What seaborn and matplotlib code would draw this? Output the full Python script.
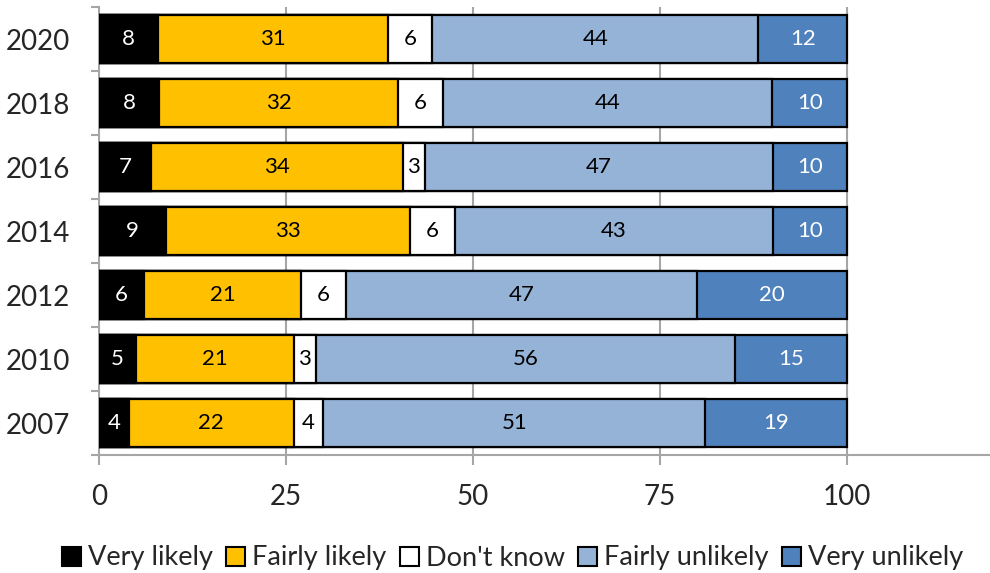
import matplotlib
matplotlib.use("Agg")
import matplotlib.pyplot as plt
from matplotlib.patches import Patch
from matplotlib.ticker import FixedLocator
import numpy as np
import pandas as pd
import seaborn as sns

years = ["2020", "2018", "2016", "2014", "2012", "2010", "2007"]
very_likely = [8, 8, 7, 9, 6, 5, 4]
fairly_likely = [31, 32, 34, 33, 21, 21, 22]
dont_know = [6, 6, 3, 6, 6, 3, 4]
fairly_unlikely = [44, 44, 47, 43, 47, 56, 51]
very_unlikely = [12, 10, 10, 10, 20, 15, 19]

series_names = ["Very likely", "Fairly likely", "Don't know", "Fairly unlikely", "Very unlikely"]
series_vals = [very_likely, fairly_likely, dont_know, fairly_unlikely, very_unlikely]
colors = ["#000000", "#FFC000", "#FFFFFF", "#95B3D7", "#4F81BD"]
text_colors = ["white", "black", "black", "black", "white"]
xticks = [0, 25, 50, 75, 100]

sns.set_theme(style="white")
plt.rcParams["font.family"] = ["Lato", "DejaVu Sans"]

vals = np.array(series_vals, dtype=float)
pct = vals / vals.sum(axis=0) * 100
cum = np.cumsum(pct, axis=0)

fig = plt.figure(figsize=(9.9, 5.73), dpi=100)
ax = fig.add_axes([99 / 990, 118 / 573, 891 / 990, 448 / 573])

# draw cumulative bars from largest to smallest so each segment shows
for i in range(len(series_names) - 1, -1, -1):
    df = pd.DataFrame({"year": years, "value": cum[i]})
    sns.barplot(data=df, x="value", y="year", orient="h", color=colors[i],
                width=0.75, edgecolor="black", linewidth=1.6, saturation=1,
                ax=ax, zorder=3)

# labels
for i in range(len(series_names)):
    starts = cum[i] - pct[i]
    for j in range(len(years)):
        ax.text(starts[j] + pct[i][j] / 2, j, str(series_vals[i][j]),
                ha="center", va="center", fontsize=16, color=text_colors[i], zorder=5)

ax.set_xlim(0, 119.1)
ax.set_ylim(6.5, -0.5)
ax.set_xlabel("")
ax.set_ylabel("")

ax.set_xticks(xticks)
ax.set_xticklabels([str(t) for t in xticks], fontsize=20)
for t in xticks[1:]:
    ax.axvline(t, color="#A6A6A6", lw=1.5, zorder=1)

ax.set_yticks(range(len(years)))
ax.set_yticklabels(years, fontsize=20)
ax.yaxis.set_minor_locator(FixedLocator(np.arange(-0.5, len(years), 1.0)))

ax.tick_params(axis="y", which="major", length=0, pad=21)
ax.tick_params(axis="y", which="minor", length=6, width=1.5, color="#A6A6A6", left=True)
ax.tick_params(axis="x", which="major", length=7, width=1.5, color="#A6A6A6",
               bottom=True, pad=14)

for s in ["top", "right"]:
    ax.spines[s].set_visible(False)
for s in ["left", "bottom"]:
    ax.spines[s].set_color("#A6A6A6")
    ax.spines[s].set_linewidth(1.5)
ax.grid(False)

handles = [Patch(facecolor=c, edgecolor="black", linewidth=1.5) for c in colors]
fig.legend(handles, series_names, loc="center left",
           bbox_to_anchor=(62 / 990, 1 - 558 / 573), ncol=5, frameon=False,
           fontsize=19.5, handlelength=0.7, handleheight=0.7, handletextpad=0.25,
           columnspacing=0.5, borderaxespad=0, borderpad=0)

fig.savefig("out.png", dpi=100)
